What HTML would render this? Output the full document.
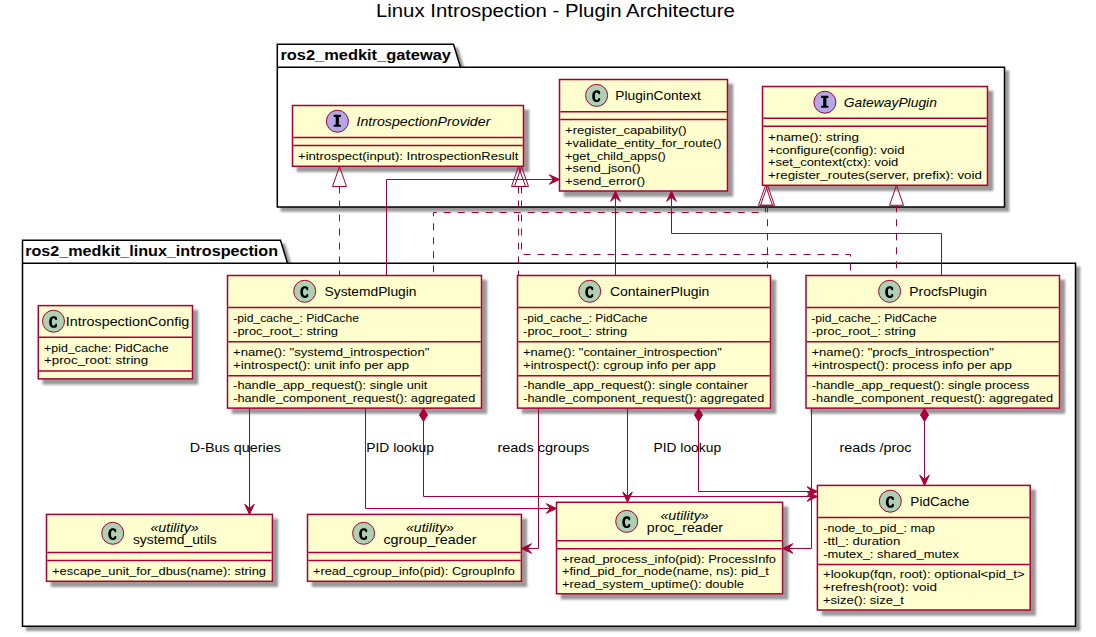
<!DOCTYPE html>
<html><head><meta charset="utf-8"><style>
html,body{margin:0;padding:0;background:#fff;}
svg{display:block;}
text{font-family:"Liberation Sans", sans-serif;fill:#000;}
</style></head><body>
<svg width="1096" height="637" viewBox="0 0 1096 637">
<defs><filter id="sh" x="-1" y="-1" width="300%" height="300%"><feGaussianBlur result="b1" stdDeviation="1.0"/><feColorMatrix in="b1" result="b2" type="matrix" values="0 0 0 0 0 0 0 0 0 0 0 0 0 0 0 0 0 0 .4 0"/><feOffset dx="5.0" dy="5.0" in="b2" result="b3"/><feBlend in="SourceGraphic" in2="b3" mode="normal"/></filter><filter id="shp" x="-1" y="-1" width="300%" height="300%"><feGaussianBlur result="b1" stdDeviation="1.3"/><feColorMatrix in="b1" result="b2" type="matrix" values="0 0 0 0 0 0 0 0 0 0 0 0 0 0 0 0 0 0 .4 0"/><feOffset dx="3.5" dy="3.5" in="b2" result="b3"/><feBlend in="SourceGraphic" in2="b3" mode="normal"/></filter></defs>
<rect width="1096" height="637" fill="#FFFFFF"/>
<text x="375.95" y="17.15" font-size="18.90" textLength="358.84" lengthAdjust="spacingAndGlyphs">Linux Introspection - Plugin Architecture</text>
<polygon fill="#FFFFFF" filter="url(#shp)" points="277.3,44.3 453.5,44.3 460.5,67.19999999999999 1004.5,67.19999999999999 1004.5,207 277.3,207 277.3,44.3" style="stroke:#000000;stroke-width:1.5;"/>
<line x1="277.3" y1="67.19999999999999" x2="460.5" y2="67.19999999999999" style="stroke:#000000;stroke-width:1.5;"/>
<text x="280.43" y="59.80" font-size="14.70" textLength="170.55" lengthAdjust="spacingAndGlyphs" font-weight="bold">ros2_medkit_gateway</text>
<polygon fill="#FFFFFF" filter="url(#shp)" points="22.5,240.3 280.5,240.3 287.5,263.2 1075.5,263.2 1075.5,626.3 22.5,626.3 22.5,240.3" style="stroke:#000000;stroke-width:1.5;"/>
<line x1="22.5" y1="263.2" x2="287.5" y2="263.2" style="stroke:#000000;stroke-width:1.5;"/>
<text x="25.20" y="255.80" font-size="14.70" textLength="252.83" lengthAdjust="spacingAndGlyphs" font-weight="bold">ros2_medkit_linux_introspection</text>
<rect x="292.5" y="105.5" width="231.00" height="60.80" fill="#FEFECE" filter="url(#sh)" style="stroke:#A80036;stroke-width:1.5;"/>
<ellipse cx="337.40" cy="121.25" rx="11" ry="11" fill="#B4A7E5" style="stroke:#A80036;stroke-width:1.0;"/>
<path d="M333.70,114.85 h7.2 v2.2 h-2 v7.8 h2 v2.0 h-7.2 v-2.0 h2 v-7.8 h-2 z" fill="#000000"/>
<text x="356.46" y="125.80" font-size="12.60" textLength="133.91" lengthAdjust="spacingAndGlyphs" font-style="italic">IntrospectionProvider</text>
<line x1="293.25" y1="137.4" x2="522.75" y2="137.4" style="stroke:#A80036;stroke-width:1.5;"/>
<line x1="293.25" y1="145.4" x2="522.75" y2="145.4" style="stroke:#A80036;stroke-width:1.5;"/>
<text x="298.04" y="159.60" font-size="11.55" textLength="220.24" lengthAdjust="spacingAndGlyphs">+introspect(input): IntrospectionResult</text>
<rect x="559.5" y="79.5" width="168.00" height="111.50" fill="#FEFECE" filter="url(#sh)" style="stroke:#A80036;stroke-width:1.5;"/>
<ellipse cx="596.60" cy="95.40" rx="11" ry="11" fill="#ADD1B2" style="stroke:#A80036;stroke-width:1.0;"/>
<path transform="translate(596.60,95.75)" d="M3.5,-4.2 C2.5,-5.1 1.3,-5.4 0,-5.4 C-2.7,-5.4 -4.4,-3.1 -4.4,0.45 C-4.4,4.0 -2.7,6.3 0,6.3 C1.3,6.3 2.5,6.0 3.5,5.1 L3.5,2.3 L2.0,2.3 C1.7,3.5 1.0,4.2 0.1,4.2 C-1.1,4.2 -1.7,2.8 -1.7,0.45 C-1.7,-1.9 -1.1,-3.3 0.1,-3.3 C1.0,-3.3 1.7,-2.6 2.0,-1.5 L3.5,-1.5 Z" fill="#000000"/>
<text x="615.30" y="99.80" font-size="12.60" textLength="85.66" lengthAdjust="spacingAndGlyphs">PluginContext</text>
<line x1="560.25" y1="111.7" x2="726.75" y2="111.7" style="stroke:#A80036;stroke-width:1.5;"/>
<line x1="560.25" y1="119.5" x2="726.75" y2="119.5" style="stroke:#A80036;stroke-width:1.5;"/>
<text x="565.04" y="133.90" font-size="11.55" textLength="121.68" lengthAdjust="spacingAndGlyphs">+register_capability()</text>
<text x="565.05" y="146.70" font-size="11.55" textLength="156.59" lengthAdjust="spacingAndGlyphs">+validate_entity_for_route()</text>
<text x="564.93" y="159.50" font-size="11.55" textLength="100.92" lengthAdjust="spacingAndGlyphs">+get_child_apps()</text>
<text x="565.04" y="172.30" font-size="11.55" textLength="75.42" lengthAdjust="spacingAndGlyphs">+send_json()</text>
<text x="565.04" y="185.10" font-size="11.55" textLength="80.15" lengthAdjust="spacingAndGlyphs">+send_error()</text>
<rect x="762.5" y="86.5" width="225.00" height="98.80" fill="#FEFECE" filter="url(#sh)" style="stroke:#A80036;stroke-width:1.5;"/>
<ellipse cx="824.90" cy="102.20" rx="11" ry="11" fill="#B4A7E5" style="stroke:#A80036;stroke-width:1.0;"/>
<path d="M821.20,95.80 h7.2 v2.2 h-2 v7.8 h2 v2.0 h-7.2 v-2.0 h2 v-7.8 h-2 z" fill="#000000"/>
<text x="843.70" y="106.80" font-size="12.60" textLength="93.23" lengthAdjust="spacingAndGlyphs" font-style="italic">GatewayPlugin</text>
<line x1="763.25" y1="118.3" x2="986.75" y2="118.3" style="stroke:#A80036;stroke-width:1.5;"/>
<line x1="763.25" y1="126.3" x2="986.75" y2="126.3" style="stroke:#A80036;stroke-width:1.5;"/>
<text x="768.04" y="140.70" font-size="11.55" textLength="90.92" lengthAdjust="spacingAndGlyphs">+name(): string</text>
<text x="768.04" y="153.50" font-size="11.55" textLength="136.54" lengthAdjust="spacingAndGlyphs">+configure(config): void</text>
<text x="768.04" y="166.30" font-size="11.55" textLength="130.22" lengthAdjust="spacingAndGlyphs">+set_context(ctx): void</text>
<text x="768.04" y="179.10" font-size="11.55" textLength="213.85" lengthAdjust="spacingAndGlyphs">+register_routes(server, prefix): void</text>
<rect x="38.3" y="305.6" width="154.20" height="73.30" fill="#FEFECE" filter="url(#sh)" style="stroke:#A80036;stroke-width:1.5;"/>
<ellipse cx="53.50" cy="321.20" rx="11" ry="11" fill="#ADD1B2" style="stroke:#A80036;stroke-width:1.0;"/>
<path transform="translate(53.50,321.55)" d="M3.5,-4.2 C2.5,-5.1 1.3,-5.4 0,-5.4 C-2.7,-5.4 -4.4,-3.1 -4.4,0.45 C-4.4,4.0 -2.7,6.3 0,6.3 C1.3,6.3 2.5,6.0 3.5,5.1 L3.5,2.3 L2.0,2.3 C1.7,3.5 1.0,4.2 0.1,4.2 C-1.1,4.2 -1.7,2.8 -1.7,0.45 C-1.7,-1.9 -1.1,-3.3 0.1,-3.3 C1.0,-3.3 1.7,-2.6 2.0,-1.5 L3.5,-1.5 Z" fill="#000000"/>
<text x="65.84" y="325.90" font-size="12.60" textLength="123.47" lengthAdjust="spacingAndGlyphs">IntrospectionConfig</text>
<line x1="39.05" y1="337.2" x2="191.75" y2="337.2" style="stroke:#A80036;stroke-width:1.5;"/>
<line x1="39.05" y1="371.1" x2="191.75" y2="371.1" style="stroke:#A80036;stroke-width:1.5;"/>
<text x="44.11" y="351.80" font-size="11.55" textLength="124.49" lengthAdjust="spacingAndGlyphs">+pid_cache: PidCache</text>
<text x="43.92" y="364.20" font-size="11.55" textLength="104.31" lengthAdjust="spacingAndGlyphs">+proc_root: string</text>
<rect x="227.5" y="275.5" width="254.00" height="132.60" fill="#FEFECE" filter="url(#sh)" style="stroke:#A80036;stroke-width:1.5;"/>
<ellipse cx="304.70" cy="291.30" rx="11" ry="11" fill="#ADD1B2" style="stroke:#A80036;stroke-width:1.0;"/>
<path transform="translate(304.70,291.65)" d="M3.5,-4.2 C2.5,-5.1 1.3,-5.4 0,-5.4 C-2.7,-5.4 -4.4,-3.1 -4.4,0.45 C-4.4,4.0 -2.7,6.3 0,6.3 C1.3,6.3 2.5,6.0 3.5,5.1 L3.5,2.3 L2.0,2.3 C1.7,3.5 1.0,4.2 0.1,4.2 C-1.1,4.2 -1.7,2.8 -1.7,0.45 C-1.7,-1.9 -1.1,-3.3 0.1,-3.3 C1.0,-3.3 1.7,-2.6 2.0,-1.5 L3.5,-1.5 Z" fill="#000000"/>
<text x="324.57" y="295.80" font-size="12.60" textLength="91.92" lengthAdjust="spacingAndGlyphs">SystemdPlugin</text>
<line x1="228.25" y1="307.5" x2="480.75" y2="307.5" style="stroke:#A80036;stroke-width:1.5;"/>
<line x1="228.25" y1="341.7" x2="480.75" y2="341.7" style="stroke:#A80036;stroke-width:1.5;"/>
<line x1="228.25" y1="375.8" x2="480.75" y2="375.8" style="stroke:#A80036;stroke-width:1.5;"/>
<text x="233.20" y="322.40" font-size="11.55" textLength="125.75" lengthAdjust="spacingAndGlyphs">-pid_cache_: PidCache</text>
<text x="233.13" y="335.20" font-size="11.55" textLength="104.89" lengthAdjust="spacingAndGlyphs">-proc_root_: string</text>
<text x="233.04" y="355.90" font-size="11.55" textLength="196.32" lengthAdjust="spacingAndGlyphs">+name(): &quot;systemd_introspection&quot;</text>
<text x="233.04" y="368.50" font-size="11.55" textLength="175.97" lengthAdjust="spacingAndGlyphs">+introspect(): unit info per app</text>
<text x="233.13" y="388.60" font-size="11.55" textLength="194.24" lengthAdjust="spacingAndGlyphs">-handle_app_request(): single unit</text>
<text x="233.16" y="401.50" font-size="11.55" textLength="242.13" lengthAdjust="spacingAndGlyphs">-handle_component_request(): aggregated</text>
<rect x="517.5" y="275.5" width="253.00" height="132.60" fill="#FEFECE" filter="url(#sh)" style="stroke:#A80036;stroke-width:1.5;"/>
<ellipse cx="589.70" cy="291.30" rx="11" ry="11" fill="#ADD1B2" style="stroke:#A80036;stroke-width:1.0;"/>
<path transform="translate(589.70,291.65)" d="M3.5,-4.2 C2.5,-5.1 1.3,-5.4 0,-5.4 C-2.7,-5.4 -4.4,-3.1 -4.4,0.45 C-4.4,4.0 -2.7,6.3 0,6.3 C1.3,6.3 2.5,6.0 3.5,5.1 L3.5,2.3 L2.0,2.3 C1.7,3.5 1.0,4.2 0.1,4.2 C-1.1,4.2 -1.7,2.8 -1.7,0.45 C-1.7,-1.9 -1.1,-3.3 0.1,-3.3 C1.0,-3.3 1.7,-2.6 2.0,-1.5 L3.5,-1.5 Z" fill="#000000"/>
<text x="610.01" y="295.80" font-size="12.60" textLength="99.31" lengthAdjust="spacingAndGlyphs">ContainerPlugin</text>
<line x1="518.25" y1="307.5" x2="769.75" y2="307.5" style="stroke:#A80036;stroke-width:1.5;"/>
<line x1="518.25" y1="341.7" x2="769.75" y2="341.7" style="stroke:#A80036;stroke-width:1.5;"/>
<line x1="518.25" y1="375.8" x2="769.75" y2="375.8" style="stroke:#A80036;stroke-width:1.5;"/>
<text x="523.22" y="322.40" font-size="11.55" textLength="124.24" lengthAdjust="spacingAndGlyphs">-pid_cache_: PidCache</text>
<text x="523.14" y="335.20" font-size="11.55" textLength="103.90" lengthAdjust="spacingAndGlyphs">-proc_root_: string</text>
<text x="523.04" y="355.90" font-size="11.55" textLength="198.84" lengthAdjust="spacingAndGlyphs">+name(): &quot;container_introspection&quot;</text>
<text x="523.04" y="368.50" font-size="11.55" textLength="192.80" lengthAdjust="spacingAndGlyphs">+introspect(): cgroup info per app</text>
<text x="523.16" y="388.60" font-size="11.55" textLength="224.79" lengthAdjust="spacingAndGlyphs">-handle_app_request(): single container</text>
<text x="523.16" y="401.50" font-size="11.55" textLength="241.07" lengthAdjust="spacingAndGlyphs">-handle_component_request(): aggregated</text>
<rect x="806" y="275.5" width="253.50" height="132.60" fill="#FEFECE" filter="url(#sh)" style="stroke:#A80036;stroke-width:1.5;"/>
<ellipse cx="889.60" cy="291.30" rx="11" ry="11" fill="#ADD1B2" style="stroke:#A80036;stroke-width:1.0;"/>
<path transform="translate(889.60,291.65)" d="M3.5,-4.2 C2.5,-5.1 1.3,-5.4 0,-5.4 C-2.7,-5.4 -4.4,-3.1 -4.4,0.45 C-4.4,4.0 -2.7,6.3 0,6.3 C1.3,6.3 2.5,6.0 3.5,5.1 L3.5,2.3 L2.0,2.3 C1.7,3.5 1.0,4.2 0.1,4.2 C-1.1,4.2 -1.7,2.8 -1.7,0.45 C-1.7,-1.9 -1.1,-3.3 0.1,-3.3 C1.0,-3.3 1.7,-2.6 2.0,-1.5 L3.5,-1.5 Z" fill="#000000"/>
<text x="909.38" y="295.80" font-size="12.60" textLength="77.66" lengthAdjust="spacingAndGlyphs">ProcfsPlugin</text>
<line x1="806.75" y1="307.5" x2="1058.75" y2="307.5" style="stroke:#A80036;stroke-width:1.5;"/>
<line x1="806.75" y1="341.7" x2="1058.75" y2="341.7" style="stroke:#A80036;stroke-width:1.5;"/>
<line x1="806.75" y1="375.8" x2="1058.75" y2="375.8" style="stroke:#A80036;stroke-width:1.5;"/>
<text x="811.31" y="322.40" font-size="11.55" textLength="125.47" lengthAdjust="spacingAndGlyphs">-pid_cache_: PidCache</text>
<text x="811.85" y="335.20" font-size="11.55" textLength="104.05" lengthAdjust="spacingAndGlyphs">-proc_root_: string</text>
<text x="811.42" y="355.90" font-size="11.55" textLength="182.43" lengthAdjust="spacingAndGlyphs">+name(): &quot;procfs_introspection&quot;</text>
<text x="811.42" y="368.50" font-size="11.55" textLength="200.35" lengthAdjust="spacingAndGlyphs">+introspect(): process info per app</text>
<text x="811.85" y="388.60" font-size="11.55" textLength="217.63" lengthAdjust="spacingAndGlyphs">-handle_app_request(): single process</text>
<text x="811.85" y="401.50" font-size="11.55" textLength="241.28" lengthAdjust="spacingAndGlyphs">-handle_component_request(): aggregated</text>
<rect x="46.5" y="514.4" width="225.90" height="66.90" fill="#FEFECE" filter="url(#sh)" style="stroke:#A80036;stroke-width:1.5;"/>
<ellipse cx="112.70" cy="533.30" rx="11" ry="11" fill="#ADD1B2" style="stroke:#A80036;stroke-width:1.0;"/>
<path transform="translate(112.70,533.65)" d="M3.5,-4.2 C2.5,-5.1 1.3,-5.4 0,-5.4 C-2.7,-5.4 -4.4,-3.1 -4.4,0.45 C-4.4,4.0 -2.7,6.3 0,6.3 C1.3,6.3 2.5,6.0 3.5,5.1 L3.5,2.3 L2.0,2.3 C1.7,3.5 1.0,4.2 0.1,4.2 C-1.1,4.2 -1.7,2.8 -1.7,0.45 C-1.7,-1.9 -1.1,-3.3 0.1,-3.3 C1.0,-3.3 1.7,-2.6 2.0,-1.5 L3.5,-1.5 Z" fill="#000000"/>
<text x="150.40" y="531.60" font-size="12.60" textLength="48.30" lengthAdjust="spacingAndGlyphs" font-style="italic">«utility»</text>
<text x="132.95" y="544.40" font-size="12.60" textLength="83.83" lengthAdjust="spacingAndGlyphs">systemd_utils</text>
<line x1="47.25" y1="552.6" x2="271.65" y2="552.6" style="stroke:#A80036;stroke-width:1.5;"/>
<line x1="47.25" y1="560.5" x2="271.65" y2="560.5" style="stroke:#A80036;stroke-width:1.5;"/>
<text x="52.04" y="574.60" font-size="11.55" textLength="213.99" lengthAdjust="spacingAndGlyphs">+escape_unit_for_dbus(name): string</text>
<rect x="307.5" y="514.4" width="213.90" height="66.90" fill="#FEFECE" filter="url(#sh)" style="stroke:#A80036;stroke-width:1.5;"/>
<ellipse cx="363.60" cy="533.30" rx="11" ry="11" fill="#ADD1B2" style="stroke:#A80036;stroke-width:1.0;"/>
<path transform="translate(363.60,533.65)" d="M3.5,-4.2 C2.5,-5.1 1.3,-5.4 0,-5.4 C-2.7,-5.4 -4.4,-3.1 -4.4,0.45 C-4.4,4.0 -2.7,6.3 0,6.3 C1.3,6.3 2.5,6.0 3.5,5.1 L3.5,2.3 L2.0,2.3 C1.7,3.5 1.0,4.2 0.1,4.2 C-1.1,4.2 -1.7,2.8 -1.7,0.45 C-1.7,-1.9 -1.1,-3.3 0.1,-3.3 C1.0,-3.3 1.7,-2.6 2.0,-1.5 L3.5,-1.5 Z" fill="#000000"/>
<text x="405.93" y="531.60" font-size="12.60" textLength="48.02" lengthAdjust="spacingAndGlyphs" font-style="italic">«utility»</text>
<text x="383.41" y="544.40" font-size="12.60" textLength="93.04" lengthAdjust="spacingAndGlyphs">cgroup_reader</text>
<line x1="308.25" y1="552.6" x2="520.65" y2="552.6" style="stroke:#A80036;stroke-width:1.5;"/>
<line x1="308.25" y1="560.5" x2="520.65" y2="560.5" style="stroke:#A80036;stroke-width:1.5;"/>
<text x="313.04" y="574.60" font-size="11.55" textLength="201.76" lengthAdjust="spacingAndGlyphs">+read_cgroup_info(pid): CgroupInfo</text>
<rect x="556.5" y="502.3" width="226.10" height="91.50" fill="#FEFECE" filter="url(#sh)" style="stroke:#A80036;stroke-width:1.5;"/>
<ellipse cx="626.70" cy="521.35" rx="11" ry="11" fill="#ADD1B2" style="stroke:#A80036;stroke-width:1.0;"/>
<path transform="translate(626.70,521.70)" d="M3.5,-4.2 C2.5,-5.1 1.3,-5.4 0,-5.4 C-2.7,-5.4 -4.4,-3.1 -4.4,0.45 C-4.4,4.0 -2.7,6.3 0,6.3 C1.3,6.3 2.5,6.0 3.5,5.1 L3.5,2.3 L2.0,2.3 C1.7,3.5 1.0,4.2 0.1,4.2 C-1.1,4.2 -1.7,2.8 -1.7,0.45 C-1.7,-1.9 -1.1,-3.3 0.1,-3.3 C1.0,-3.3 1.7,-2.6 2.0,-1.5 L3.5,-1.5 Z" fill="#000000"/>
<text x="660.40" y="519.50" font-size="12.60" textLength="48.30" lengthAdjust="spacingAndGlyphs" font-style="italic">«utility»</text>
<text x="646.84" y="532.30" font-size="12.60" textLength="76.25" lengthAdjust="spacingAndGlyphs">proc_reader</text>
<line x1="557.25" y1="540.8" x2="781.85" y2="540.8" style="stroke:#A80036;stroke-width:1.5;"/>
<line x1="557.25" y1="548.8" x2="781.85" y2="548.8" style="stroke:#A80036;stroke-width:1.5;"/>
<text x="562.04" y="562.50" font-size="11.55" textLength="213.97" lengthAdjust="spacingAndGlyphs">+read_process_info(pid): ProcessInfo</text>
<text x="562.04" y="574.90" font-size="11.55" textLength="206.85" lengthAdjust="spacingAndGlyphs">+find_pid_for_node(name, ns): pid_t</text>
<text x="562.04" y="587.60" font-size="11.55" textLength="181.94" lengthAdjust="spacingAndGlyphs">+read_system_uptime(): double</text>
<rect x="817.4" y="485.4" width="212.80" height="124.60" fill="#FEFECE" filter="url(#sh)" style="stroke:#A80036;stroke-width:1.5;"/>
<ellipse cx="890.30" cy="501.20" rx="11" ry="11" fill="#ADD1B2" style="stroke:#A80036;stroke-width:1.0;"/>
<path transform="translate(890.30,501.55)" d="M3.5,-4.2 C2.5,-5.1 1.3,-5.4 0,-5.4 C-2.7,-5.4 -4.4,-3.1 -4.4,0.45 C-4.4,4.0 -2.7,6.3 0,6.3 C1.3,6.3 2.5,6.0 3.5,5.1 L3.5,2.3 L2.0,2.3 C1.7,3.5 1.0,4.2 0.1,4.2 C-1.1,4.2 -1.7,2.8 -1.7,0.45 C-1.7,-1.9 -1.1,-3.3 0.1,-3.3 C1.0,-3.3 1.7,-2.6 2.0,-1.5 L3.5,-1.5 Z" fill="#000000"/>
<text x="910.32" y="505.70" font-size="12.60" textLength="58.94" lengthAdjust="spacingAndGlyphs">PidCache</text>
<line x1="818.15" y1="517.4" x2="1029.45" y2="517.4" style="stroke:#A80036;stroke-width:1.5;"/>
<line x1="818.15" y1="564.5" x2="1029.45" y2="564.5" style="stroke:#A80036;stroke-width:1.5;"/>
<text x="823.26" y="531.70" font-size="11.55" textLength="111.65" lengthAdjust="spacingAndGlyphs">-node_to_pid_: map</text>
<text x="823.20" y="545.00" font-size="11.55" textLength="77.13" lengthAdjust="spacingAndGlyphs">-ttl_: duration</text>
<text x="823.20" y="557.70" font-size="11.55" textLength="135.74" lengthAdjust="spacingAndGlyphs">-mutex_: shared_mutex</text>
<text x="822.96" y="578.20" font-size="11.55" textLength="201.76" lengthAdjust="spacingAndGlyphs">+lookup(fqn, root): optional&lt;pid_t&gt;</text>
<text x="822.95" y="590.80" font-size="11.55" textLength="114.17" lengthAdjust="spacingAndGlyphs">+refresh(root): void</text>
<text x="822.96" y="603.80" font-size="11.55" textLength="80.98" lengthAdjust="spacingAndGlyphs">+size(): size_t</text>
<path d="M339.5,186.5 L339.5,275.5" fill="none" style="stroke:#A80036;stroke-width:1.0;stroke-dasharray:7.0,7.0;"/>
<polygon points="332.5,186.5 339.5,166.5 346.5,186.5 332.5,186.5" fill="none" style="stroke:#A80036;stroke-width:1.0;"/>
<path d="M765.5,205.3 L765.5,212.5 L433.5,212.5 L433.5,275.5" fill="none" style="stroke:#A80036;stroke-width:1.0;stroke-dasharray:7.0,7.0;"/>
<polygon points="758.5,205.3 765.5,185.3 772.5,205.3 758.5,205.3" fill="none" style="stroke:#A80036;stroke-width:1.0;"/>
<path d="M386.5,275.5 L386.5,179.5 L553.5,179.5" fill="none" style="stroke:#A80036;stroke-width:1.0;"/>
<polygon points="559.5,179.5 549.3,174.7 553.5,179.5 549.3,184.3 559.5,179.5" fill="#A80036" style="stroke:#A80036;stroke-width:1.0;"/>
<path d="M518.5,186.5 L518.5,275.5" fill="none" style="stroke:#A80036;stroke-width:1.0;stroke-dasharray:7.0,7.0;"/>
<polygon points="511.5,186.5 518.5,166.5 525.5,186.5 511.5,186.5" fill="none" style="stroke:#A80036;stroke-width:1.0;"/>
<path d="M767.5,205.3 L767.5,275.5" fill="none" style="stroke:#A80036;stroke-width:1.0;stroke-dasharray:7.0,7.0;"/>
<polygon points="760.5,205.3 767.5,185.3 774.5,205.3 760.5,205.3" fill="none" style="stroke:#A80036;stroke-width:1.0;"/>
<path d="M615.5,275.5 L615.5,197" fill="none" style="stroke:#A80036;stroke-width:1.0;"/>
<polygon points="615.5,191.2 610.7,201.39999999999998 615.5,197.2 620.3,201.39999999999998 615.5,191.2" fill="#A80036" style="stroke:#A80036;stroke-width:1.0;"/>
<path d="M521.5,186.5 L521.5,254.5 L850.5,254.5 L850.5,275.5" fill="none" style="stroke:#A80036;stroke-width:1.0;stroke-dasharray:7.0,7.0;"/>
<polygon points="514.5,186.5 521.5,166.5 528.5,186.5 514.5,186.5" fill="none" style="stroke:#A80036;stroke-width:1.0;"/>
<path d="M896.5,205.3 L896.5,275.5" fill="none" style="stroke:#A80036;stroke-width:1.0;stroke-dasharray:7.0,7.0;"/>
<polygon points="889.5,205.3 896.5,185.3 903.5,205.3 889.5,205.3" fill="none" style="stroke:#A80036;stroke-width:1.0;"/>
<path d="M941.5,275.5 L941.5,233.5 L671.5,233.5 L671.5,197" fill="none" style="stroke:#A80036;stroke-width:1.0;"/>
<polygon points="671.5,191.2 666.7,201.39999999999998 671.5,197.2 676.3,201.39999999999998 671.5,191.2" fill="#A80036" style="stroke:#A80036;stroke-width:1.0;"/>
<path d="M249.5,408.2 L249.5,508.4" fill="none" style="stroke:#A80036;stroke-width:1.0;"/>
<polygon points="249.5,514.4 244.7,504.2 249.5,508.4 254.3,504.2 249.5,514.4" fill="#A80036" style="stroke:#A80036;stroke-width:1.0;"/>
<path d="M365.5,408.2 L365.5,508.5 L550.5,508.5" fill="none" style="stroke:#A80036;stroke-width:1.0;"/>
<polygon points="556.5,508.5 546.3,503.7 550.5,508.5 546.3,513.3 556.5,508.5" fill="#A80036" style="stroke:#A80036;stroke-width:1.0;"/>
<polygon points="423.5,408.5 419.5,415.0 423.5,421.4 427.5,415.0 423.5,408.5" fill="#A80036" style="stroke:#A80036;stroke-width:1.0;"/>
<path d="M423.5,421.2 L423.5,496.5 L811.4,496.5" fill="none" style="stroke:#A80036;stroke-width:1.0;"/>
<polygon points="817.4,496.5 807.1999999999999,491.7 811.4,496.5 807.1999999999999,501.3 817.4,496.5" fill="#A80036" style="stroke:#A80036;stroke-width:1.0;"/>
<path d="M538.5,408.2 L538.5,548.5 L527.4,548.5" fill="none" style="stroke:#A80036;stroke-width:1.0;"/>
<polygon points="521.4,548.5 531.6,543.7 527.4,548.5 531.6,553.3 521.4,548.5" fill="#A80036" style="stroke:#A80036;stroke-width:1.0;"/>
<path d="M627.5,408.2 L627.5,496.3" fill="none" style="stroke:#A80036;stroke-width:1.0;"/>
<polygon points="627.5,502.3 622.7,492.1 627.5,496.3 632.3,492.1 627.5,502.3" fill="#A80036" style="stroke:#A80036;stroke-width:1.0;"/>
<polygon points="698.5,408.5 694.5,415.0 698.5,421.4 702.5,415.0 698.5,408.5" fill="#A80036" style="stroke:#A80036;stroke-width:1.0;"/>
<path d="M698.5,421.2 L698.5,491.5 L811.4,491.5" fill="none" style="stroke:#A80036;stroke-width:1.0;"/>
<polygon points="817.4,491.5 807.1999999999999,486.7 811.4,491.5 807.1999999999999,496.3 817.4,491.5" fill="#A80036" style="stroke:#A80036;stroke-width:1.0;"/>
<path d="M811.5,408.2 L811.5,548.5 L788.6,548.5" fill="none" style="stroke:#A80036;stroke-width:1.0;"/>
<polygon points="782.6,548.5 792.8000000000001,543.7 788.6,548.5 792.8000000000001,553.3 782.6,548.5" fill="#A80036" style="stroke:#A80036;stroke-width:1.0;"/>
<polygon points="924.5,408.5 920.5,415.0 924.5,421.4 928.5,415.0 924.5,408.5" fill="#A80036" style="stroke:#A80036;stroke-width:1.0;"/>
<path d="M924.5,421.2 L924.5,479.4" fill="none" style="stroke:#A80036;stroke-width:1.0;"/>
<polygon points="924.5,485.4 919.7,475.2 924.5,479.4 929.3,475.2 924.5,485.4" fill="#A80036" style="stroke:#A80036;stroke-width:1.0;"/>
<text x="189.89" y="451.60" font-size="13.65" textLength="90.94" lengthAdjust="spacingAndGlyphs">D-Bus queries</text>
<text x="366.26" y="451.60" font-size="13.65" textLength="67.76" lengthAdjust="spacingAndGlyphs">PID lookup</text>
<text x="497.41" y="451.60" font-size="13.65" textLength="91.90" lengthAdjust="spacingAndGlyphs">reads cgroups</text>
<text x="653.43" y="451.60" font-size="13.65" textLength="67.66" lengthAdjust="spacingAndGlyphs">PID lookup</text>
<text x="839.53" y="451.60" font-size="13.65" textLength="71.86" lengthAdjust="spacingAndGlyphs">reads /proc</text>
</svg></body></html>
